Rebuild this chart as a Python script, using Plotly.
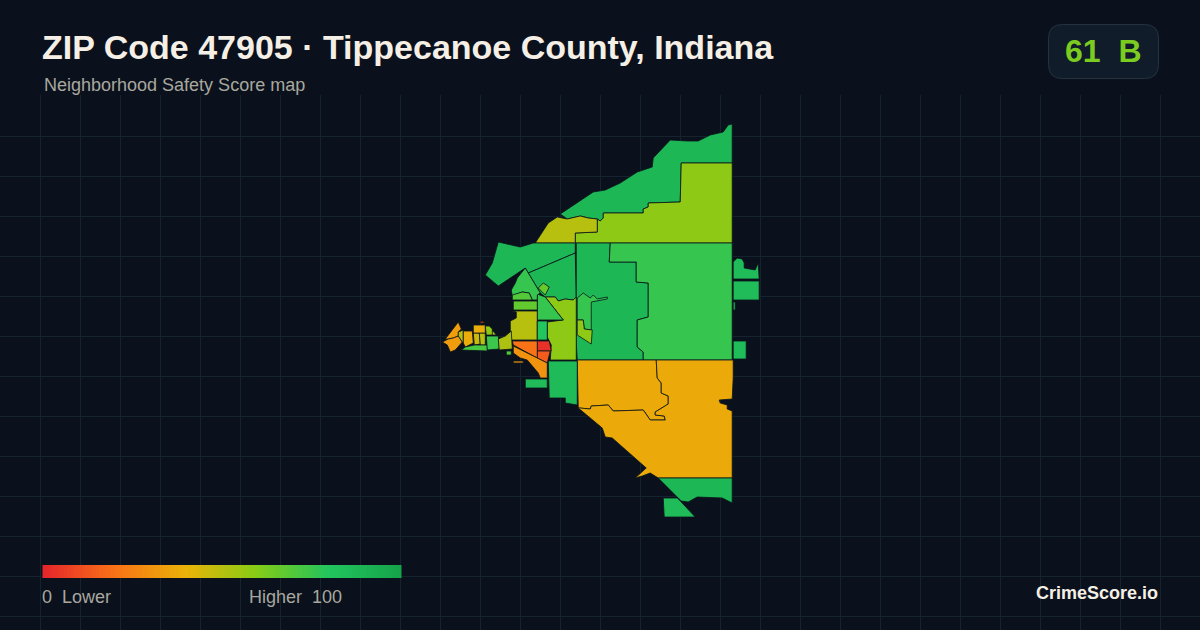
import plotly.graph_objects as go
from plotly.colors import sample_colorscale

BG = "#0a111c"
GRID = "#15232f"
EDGE = "#0a141c"

title_text = "ZIP Code 47905 · Tippecanoe County, Indiana"
subtitle_text = "Neighborhood Safety Score map"
badge_text = "61  B"
legend_low = "0  Lower"
legend_high = "Higher  100"
brand_text = "CrimeScore.io"

score_stops = [0, 20, 40, 60, 80, 100]
stop_colors = ["#e5262b", "#f97316", "#eab308", "#84cc16", "#22c55e", "#16a34a"]
legend_scores = list(range(0, 101))

north_strip = [(732,124),(728,125),(723,132),(710,135),(698,141),(687,141),(670,140),(653,158),(652,167),(637,172),(620,183),(605,190),(593,192),(577,203),(560,214),(567,219),(580,216),(588,218),(597,219),(600,221),(603,218),(603,213),(643,213),(643,209),(648,207),(648,203),(680,202),(681,163),(732,163)]
north_lime = [(681,163),(732,163),(732,243),(575,243),(575,233),(597,232),(597,219),(600,221),(603,218),(603,213),(643,213),(643,209),(648,207),(648,203),(680,202)]
north_olive = [(557,217),(567,219),(580,216),(588,218),(597,219),(597,232),(575,233),(575,243),(535,243),(543,230),(548,223)]
nw_large = [(498,242),(520,247),(533,243),(575,243),(575,253),(528,273),(525,268),(498,286),(485,275),(492,263)]
nw_inner = [(575,253),(528,273),(540,293),(545,297),(555,297),(558,301),(565,299),(573,300),(576,297)]
nw_lobe = [(538,288),(543,283),(549,287),(545,295)]
center_column = [(576,243),(610,243),(609,262),(636,262),(636,282),(648,283),(648,317),(637,320),(637,347),(643,352),(643,360),(610,360),(577,360),(576,343)]
river_green = [(577,298),(583,293),(590,298),(593,295),(597,299),(607,297),(607,299),(591,302),(591,330),(584,329),(583,320),(577,320)]
river_lime = [(577,320),(583,320),(584,329),(592,330),(591,344),(577,335)]
east_green = [(610,243),(732,243),(732,360),(643,360),(643,352),(637,347),(637,320),(648,317),(648,283),(636,282),(636,262),(609,262)]
south_nw = [(577,360),(656,360),(657,378),(661,383),(661,393),(668,396),(668,404),(655,412),(655,415),(664,416),(665,420),(650,420),(643,410),(613,411),(608,405),(591,406),(590,409),(580,408),(578,408)]
south_main = [(656,360),(733,360),(733,378),(732,399),(719,400),(720,403),(727,405),(727,409),(732,411),(732,478),(658,478),(650,473),(642,476),(635,478),(646,468),(612,438),(605,437),(602,428),(578,408),(580,408),(590,409),(591,406),(608,405),(613,411),(643,410),(650,420),(665,420),(664,416),(655,415),(655,412),(668,404),(668,396),(661,393),(661,383),(657,378)]
south_strip = [(658,478),(732,478),(732,503),(722,498),(697,497),(688,502),(681,501),(677,497)]
south_tip = [(663,498),(677,498),(681,502),(695,517),(664,517)]
south_mid = [(548,361),(577,361),(577,405),(565,403),(565,398),(549,398)]
south_small = [(525,379),(547,379),(547,388),(525,388)]
east_a = [(733,262),(737,258),(742,259),(744,263),(744,268),(755,270),(758,263),(759,279),(733,279)]
east_b = [(733,281),(759,281),(759,300),(733,300)]
east_c = [(733,341),(746,341),(746,359),(733,359)]
east_sliver = [(733,302),(735,302),(735,310),(733,310)]
center_lime = [(545,297),(555,297),(558,301),(565,299),(573,300),(576,297),(576,360),(550,360),(551,345),(547,337),(547,322),(563,320)]
center_tri = [(537,294),(545,297),(563,320),(537,320)]
upper_green = [(525,268),(540,293),(537,295),(537,300),(532,300),(529,293),(522,292),(512,296),(511,290),(515,283),(517,278)]
patch_light = [(512,295),(522,292),(529,293),(532,300),(512,300)]
patch_mid = [(513,301),(537,301),(537,310),(513,310)]
olive_block = [(512,311),(537,311),(537,340),(512,340),(510,340),(510,321),(516,318),(516,312)]
green_box = [(537,321),(547,321),(547,340),(537,340)]
red_box = [(537,341),(549,341),(551,351),(537,351)]
red_orange = [(537,351),(550,351),(547,363),(537,358)]
orange_tri = [(513,345),(512,341),(537,341),(537,358)]
amber_wedge = [(513,346),(547,363),(547,378),(540,378),(538,373),(527,360),(520,358),(513,353)]
amber_sliver = [(513,361),(523,361),(523,363),(513,363)]
west_a = [(445,339),(458,322),(461,329),(458,332),(458,336),(453,338),(448,339)]
west_b = [(442,342),(448,339),(453,338),(458,336),(462,342),(455,350),(450,352),(447,345)]
west_c = [(458,332),(463,330),(463,343),(462,342),(458,336)]
west_d = [(463,331),(472,331),(473,343),(465,347),(463,343)]
west_e = [(473,333),(479,333),(480,344),(474,345)]
west_f = [(479,333),(485,333),(485,345),(480,345)]
west_g = [(473,325),(485,325),(485,333),(473,333)]
west_red = [(478,323),(482,321),(485,323)]
west_strip = [(465,347),(474,345),(487,345),(487,351),(461,350)]
west_h = [(485,326),(489,326),(492,329),(493,335),(486,335)]
west_i = [(492,330),(496,335),(492,335)]
west_j = [(486,336),(498,336),(499,349),(487,350)]
west_k = [(498,339),(505,336),(511,331),(512,349),(499,350)]
west_l = [(506,351),(511,351),(511,355),(506,355)]

regions = [
    (north_strip, 88), (north_lime, 58), (north_olive, 50), (nw_large, 88), (nw_inner, 88), (nw_lobe, 66),
    (center_column, 88), (east_green, 76), (river_green, 76), (river_lime, 58),
    (south_nw, 37), (south_main, 37), (south_strip, 88), (south_tip, 85), (south_mid, 86), (south_small, 85),
    (east_a, 85), (east_b, 85), (east_c, 85), (east_sliver, 85),
    (center_lime, 58), (center_tri, 76), (upper_green, 76), (patch_light, 70), (patch_mid, 67),
    (olive_block, 50), (green_box, 80), (red_box, 3), (red_orange, 14), (orange_tri, 20),
    (amber_wedge, 30), (amber_sliver, 30),
    (west_a, 33), (west_b, 33), (west_c, 50), (west_d, 38), (west_e, 46), (west_f, 50), (west_g, 38),
    (west_red, 5), (west_strip, 72), (west_h, 58), (west_i, 52), (west_j, 75), (west_k, 52), (west_l, 70),
]

colorscale = [[s / 100, c] for s, c in zip(score_stops, stop_colors)]

fig = go.Figure()
for points, score in regions:
    xs = [p[0] for p in points] + [points[0][0]]
    ys = [p[1] for p in points] + [points[0][1]]
    fig.add_trace(go.Scatter(
        x=xs, y=ys, mode="lines", fill="toself",
        fillcolor=sample_colorscale(colorscale, score / 100, colortype="rgb")[0],
        line=dict(color=EDGE, width=0.8), hoverinfo="skip", showlegend=False,
    ))

fig.add_trace(go.Heatmap(
    z=[legend_scores], x0=43.8, dx=3.56, y0=571.5, dy=13,
    zmin=0, zmax=100, colorscale=colorscale, showscale=False, hoverinfo="skip",
))

TOP = 95
H = 630 - TOP

def px(x):
    return x / 1200

def py(y):
    return (630 - y) / H

def label(text, x, y, size, color, anchor="left", bold=False):
    fig.add_annotation(
        text=f"<b>{text}</b>" if bold else text, x=px(x), y=py(y), xref="paper", yref="paper",
        xanchor=anchor, yanchor="middle", showarrow=False,
        font=dict(size=size, color=color, family="Liberation Sans"),
    )

l, r, t, b = 1048.5, 1158.5, 24.5, 78.5
rad = 14
fig.add_shape(
    type="path", xref="paper", yref="paper",
    path=(f"M {px(l+rad)} {py(t)} L {px(r-rad)} {py(t)} Q {px(r)} {py(t)} {px(r)} {py(t+rad)} "
          f"L {px(r)} {py(b-rad)} Q {px(r)} {py(b)} {px(r-rad)} {py(b)} L {px(l+rad)} {py(b)} "
          f"Q {px(l)} {py(b)} {px(l)} {py(b-rad)} L {px(l)} {py(t+rad)} Q {px(l)} {py(t)} {px(l+rad)} {py(t)} Z"),
    fillcolor="#101c2a", line=dict(color="#253240", width=1),
)

label(title_text, 40, 47, 34, "#f5efe6", bold=True)
label(subtitle_text, 42, 85, 18, "#a9a79f")
label(badge_text, 1103, 51, 32, "#7ccb20", anchor="center", bold=True)
label(legend_low, 40, 597, 18, "#a9a79f")
label(legend_high, 247, 597, 18, "#a9a79f")
label(brand_text, 1160, 593, 18, "#f5efe6", anchor="right", bold=True)

fig.update_layout(
    width=1200, height=630, margin=dict(l=0, r=0, t=TOP, b=0),
    paper_bgcolor=BG, plot_bgcolor=BG, showlegend=False,
    xaxis=dict(range=[-0.5, 1200], tick0=0, dtick=40, showgrid=True, gridcolor=GRID, gridwidth=1,
               zeroline=False, showticklabels=False, ticks="", showline=False, fixedrange=True),
    yaxis=dict(range=[630, TOP], tick0=96, dtick=40, showgrid=True, gridcolor=GRID, gridwidth=1,
               zeroline=False, showticklabels=False, ticks="", showline=False, fixedrange=True),
)

post = "document.body.style.margin='0';document.body.style.background='%s';" % BG
fig.write_html("out.html", config={"displayModeBar": False}, post_script=post)
